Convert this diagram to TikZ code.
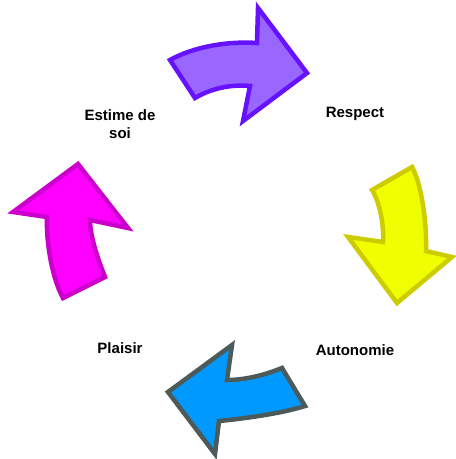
\documentclass[tikz,border=0pt]{standalone}
\usepackage{fontspec}
\setmainfont{Liberation Sans}
\definecolor{purpfill}{HTML}{9966FF}
\definecolor{purpline}{HTML}{6611FF}
\definecolor{yelfill}{HTML}{F0FF00}
\definecolor{yelline}{HTML}{CCCC00}
\definecolor{bluefill}{HTML}{0099FF}
\definecolor{blueline}{HTML}{4D5A5A}
\definecolor{magfill}{HTML}{FF00FF}
\definecolor{magline}{HTML}{CC00CC}
\begin{document}
\begin{tikzpicture}[x=1pt,y=-1pt,
  arrowshape/.style={line width=4.5pt, line join=miter},
  lbl/.style={font=\fontsize{15}{18}\selectfont\bfseries, align=center, inner sep=0pt}]
\useasboundingbox (0,0) rectangle (456,459);
% purple arrow (top)
\draw[arrowshape, fill=purpfill, draw=purpline]
  (170,60) .. controls (195,46) and (230,41) .. (257,43) -- (258,8) -- (307,73)
  -- (243,121) -- (250,86) .. controls (230,84) and (210,89) .. (195,98) -- cycle;
% yellow arrow (right)
\draw[arrowshape, fill=yelfill, draw=yelline]
  (372,190) -- (412,167) .. controls (422,185) and (427,225) .. (426,251)
  -- (452,257) -- (397,303) -- (348,237) -- (383,242)
  .. controls (384,225) and (380,203) .. (372,190) -- cycle;
% blue arrow (bottom)
\draw[arrowshape, fill=bluefill, draw=blueline]
  (282,368) -- (305,406) .. controls (280,414) and (240,419) .. (219,421)
  -- (215,454) -- (168,392) -- (232,345) -- (227,380)
  .. controls (245,380) and (265,375) .. (282,368) -- cycle;
% magenta arrow (left)
\draw[arrowshape, fill=magfill, draw=magline]
  (63,298) -- (105,277) .. controls (97,257) and (90,235) .. (90,220)
  -- (128,228) -- (78,164) -- (13,212) -- (47,217)
  .. controls (46,245) and (53,280) .. (63,298) -- cycle;
% labels
\node[lbl] (respect) at (355,114) {Respect};
\node[lbl] (estime) at (120,124) {Estime de\\soi};
\node[lbl] (autonomie) at (355,350) {Autonomie};
\node[lbl] (plaisir) at (120,348) {Plaisir};
\end{tikzpicture}
\end{document}
